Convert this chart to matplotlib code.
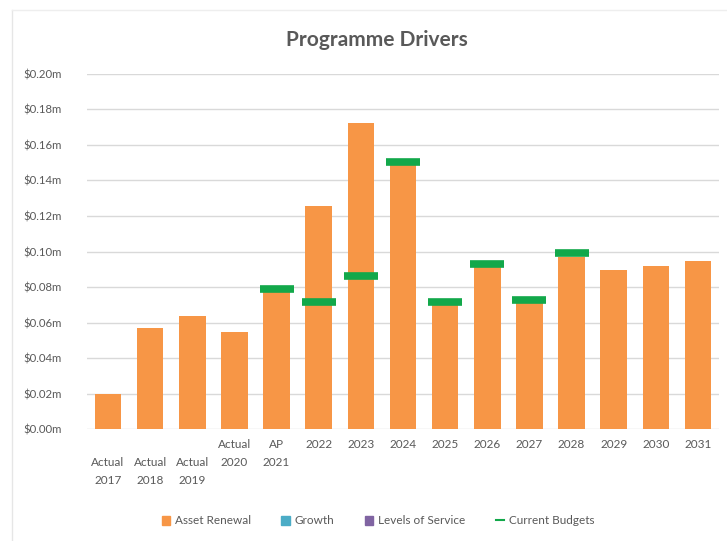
import matplotlib
matplotlib.use('Agg')
import matplotlib.pyplot as plt
import numpy as np
from matplotlib.lines import Line2D
from matplotlib.patches import Patch
from matplotlib.ticker import FuncFormatter, MultipleLocator

categories = ["\nActual\n2017", "\nActual\n2018", "\nActual\n2019", "Actual\n2020", "AP\n2021",
              "2022", "2023", "2024", "2025", "2026", "2027", "2028", "2029", "2030", "2031"]
asset_renewal = [0.020, 0.057, 0.064, 0.055, 0.078, 0.1256, 0.1724, 0.149, 0.070, 0.0915,
                 0.071, 0.097, 0.0894, 0.092, 0.0945]
growth = [0, 0, 0, 0, 0, 0, 0, 0, 0, 0, 0, 0, 0, 0, 0]
levels_of_service = [0, 0, 0, 0, 0, 0, 0, 0, 0, 0, 0, 0, 0, 0, 0]
current_budgets = [np.nan, np.nan, np.nan, np.nan, 0.079, 0.0716, 0.0864, 0.1505, 0.0714,
                   0.0931, 0.0727, 0.0992, np.nan, np.nan, np.nan]

plt.rcParams['font.family'] = ['Lato', 'DejaVu Sans']

C_ORANGE = '#F79646'
C_BLUE = '#4BACC6'
C_PURPLE = '#8064A2'
C_GREEN = '#12A84A'
C_TEXT = '#595959'

fig = plt.figure(figsize=(7.27, 5.41), dpi=100)
ax = fig.add_axes([87/727, 1-429.3/541, (719-87)/727, (429.3-73.8)/541])

x = np.arange(len(categories))
ar = np.array(asset_renewal)
gr = np.array(growth)
ls = np.array(levels_of_service)
w = 0.63
ax.bar(x, ar, width=w, color=C_ORANGE, zorder=2)
ax.bar(x, gr, width=w, bottom=ar, color=C_BLUE, zorder=2)
ax.bar(x, ls, width=w, bottom=ar + gr, color=C_PURPLE, zorder=2)
ax.plot(x, current_budgets, ls='none', marker='_', ms=24.5, mew=5.5, color=C_GREEN, zorder=3)

ax.set_xlim(-0.5, len(categories) - 0.5)
ax.set_ylim(0, 0.20)
ax.yaxis.set_major_locator(MultipleLocator(0.02))
ax.yaxis.set_major_formatter(FuncFormatter(lambda v, p: f"${v:.2f}m"))
ax.set_xticks(x)
ax.set_xticklabels(categories, fontsize=8.5, color=C_TEXT, linespacing=1.75, va='top')
ax.tick_params(axis='both', length=0, labelcolor=C_TEXT)
ax.tick_params(axis='x', pad=7)
ax.tick_params(axis='y', labelsize=8.2, pad=46)
for lab in ax.get_yticklabels():
    lab.set_horizontalalignment('left')
ax.grid(axis='y', color='#D9D9D9', lw=1, zorder=0)
for s in ax.spines.values():
    s.set_visible(False)

fig.text(377/727, 1-40/541, "Programme Drivers", ha='center', va='center',
         fontsize=15, color=C_TEXT, fontweight='bold')

handles = [Patch(color=C_ORANGE), Patch(color=C_BLUE), Patch(color=C_PURPLE),
           Line2D([], [], color=C_GREEN, lw=1.5)]
labels = ["Asset Renewal", "Growth", "Levels of Service", "Current Budgets"]
fig.legend(handles, labels, loc='center', bbox_to_anchor=(378/727, 1-521/541), ncol=4,
           frameon=False, fontsize=8.5, labelcolor=C_TEXT, handlelength=0.7, handleheight=0.7,
           handletextpad=0.4, columnspacing=2.6)

fig.add_artist(Line2D([12/727, 12/727], [0, 1-10/541], color='#E6E6E6', lw=1))
fig.add_artist(Line2D([12/727, 1], [1-10/541, 1-10/541], color='#EEEEEE', lw=1))

fig.savefig('out.png', dpi=100)
